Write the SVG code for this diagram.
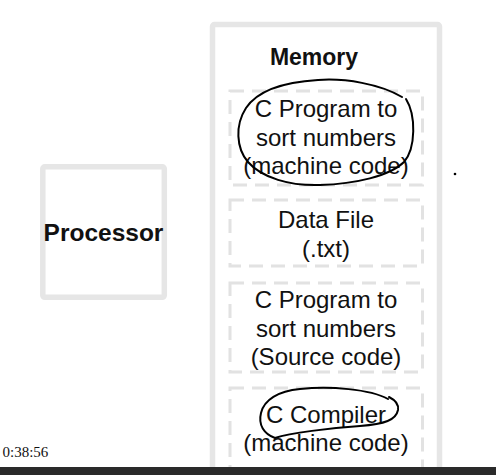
<svg xmlns="http://www.w3.org/2000/svg" width="496" height="475" viewBox="0 0 496 475">
<style>
.box{fill:#fff;stroke:#e6e6e6;stroke-width:5.5}
.slot{fill:none;stroke:#e2e2e2;stroke-width:3;stroke-dasharray:14 8}
.t{font-family:"Liberation Sans",Arial,sans-serif;font-size:24px;fill:#111;text-anchor:middle}
.b{font-weight:bold}
.ink{fill:none;stroke:#000;stroke-width:2;stroke-linecap:round;stroke-linejoin:round}
</style>
<rect width="496" height="475" fill="#fff"/>
<g id="processor">
<rect class="box" x="42.8" y="166.8" width="121.5" height="130.5" rx="2"/>
<text class="t b" x="103.5" y="241" style="font-size:24.5px">Processor</text>
</g>
<g id="memory">
<rect class="box" x="212.5" y="24.5" width="227" height="470" rx="2"/>
<text class="t b" x="314" y="65" style="font-size:23px">Memory</text>
</g>
<g id="slot-1">
<rect class="slot" x="230" y="91" width="192.5" height="94"/>
<text class="t" x="326" y="117">C Program to</text>
<text class="t" x="326" y="146">sort numbers</text>
<text class="t" x="326" y="174">(machine code)</text>
</g>
<g id="slot-2">
<rect class="slot" x="230" y="200" width="192.5" height="66"/>
<text class="t" x="326" y="228">Data File</text>
<text class="t" x="326" y="257">(.txt)</text>
</g>
<g id="slot-3">
<rect class="slot" x="230" y="283" width="192.5" height="89"/>
<text class="t" x="326" y="308">C Program to</text>
<text class="t" x="326" y="337">sort numbers</text>
<text class="t" x="326" y="365">(Source code)</text>
</g>
<g id="slot-4">
<rect class="slot" x="230" y="388" width="192.5" height="95"/>
<text class="t" x="326" y="423">C Compiler</text>
<text class="t" x="326" y="451">(machine code)</text>
</g>
<g id="connectors"/>
<g id="annotations">
<path class="ink" d="M402,97 C380,84 345,78 318,80 C285,82 258,90 246,108 C235,125 236,148 248,162 C262,178 290,186 320,185 C355,184 390,176 404,162 C416,148 416,115 406,99"/>
<path class="ink" d="M388,399 C370,389 330,386 300,389 C278,391 264,400 261,413 C258,425 264,434 275,438 C290,433 330,428 360,426 C385,424 396,420 398,410 C399,404 395,400 389,397"/>
<circle cx="455" cy="174" r="1.3" fill="#000"/>
</g>
<rect x="0" y="467" width="496" height="8" fill="#2a2a2a"/>
<text x="2.5" y="457" style="font-family:'Liberation Serif','Times New Roman',serif;font-size:15px;fill:#111">0:38:56</text>
</svg>
